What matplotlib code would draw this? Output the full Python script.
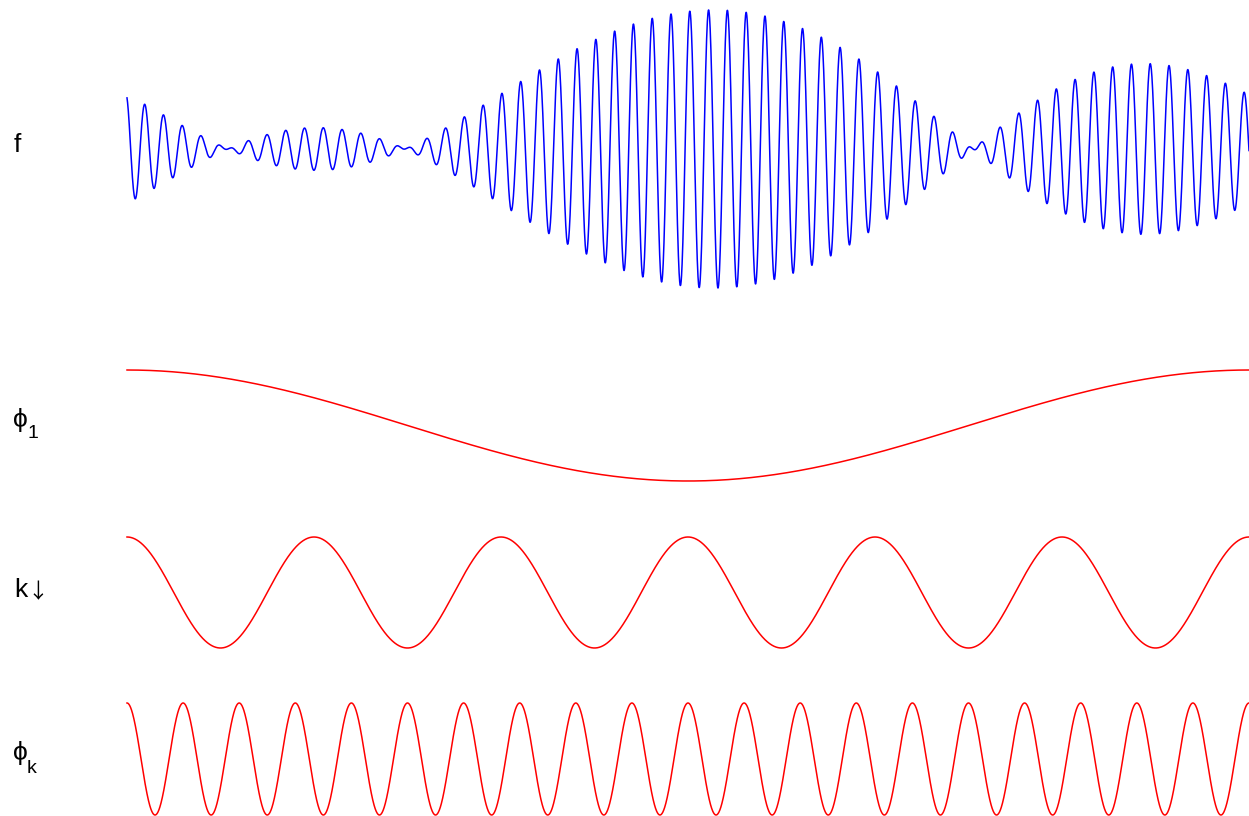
import numpy as np
import matplotlib.pyplot as plt

plt.rcParams['font.family'] = ['Liberation Sans', 'DejaVu Sans']

# f: fast carrier under a slowly varying envelope
f_cycles = 59.7                    # carrier cycles across the width
f_crest = 0.5686                   # position of one carrier crest (fraction of width)
f_zeros = [0.090, 0.248, 0.754]    # where the envelope passes through zero
f_gain = 330.0
f_tilt = 0.17

# basis functions: number of cosine cycles across the width
phi1_cycles = 1
kdown_cycles = 6
phik_cycles = 20

labels = ['f', 'ϕ', 'k', 'ϕ']
subs = ['', '1', '', 'k']

t = np.linspace(0, 1, 6000)
env = f_gain * (1 + f_tilt * np.cos(2 * np.pi * t))
env = env * np.sin(np.pi * (t - f_zeros[0])) * np.sin(np.pi * (t - f_zeros[1])) * np.sin(np.pi * (f_zeros[2] - t))
f = env * np.cos(2 * np.pi * f_cycles * (t - f_crest))

curves = [
    (f, 'blue'),
    (np.cos(2 * np.pi * phi1_cycles * t), 'red'),
    (np.cos(2 * np.pi * kdown_cycles * t), 'red'),
    (np.cos(2 * np.pi * phik_cycles * t), 'red'),
]

W, H = 1249, 816
fig = plt.figure(figsize=(W / 100, H / 100), dpi=100)

# pixel boxes (top, bottom) of each row
rows = [(10, 288), (370, 481), (537, 648), (703, 815)]
x0, x1 = 127, 1249

for (y, col), (top, bot) in zip(curves, rows):
    ax = fig.add_axes([x0 / W, 1 - bot / H, (x1 - x0) / W, (bot - top) / H])
    ax.plot(t, y, color=col, lw=1.1, clip_on=False)
    ax.set_xlim(0, 1)
    ax.set_ylim(y.min(), y.max())
    ax.axis('off')

# row labels (baseline positions in pixels)
label_pos = [(14, 152), (13, 427), (14, 597), (13, 760)]
sub_pos = [None, (28, 438), None, (27, 773)]
for lab, sub, (lx, ly), sp in zip(labels, subs, label_pos, sub_pos):
    fig.text(lx / W, 1 - ly / H, lab, fontsize=19, va='baseline', ha='left')
    if sub:
        fig.text(sp[0] / W, 1 - sp[1] / H, sub, fontsize=14, va='baseline', ha='left')

# thin arrow after k
fig.text(27 / W, 1 - 598 / H, '↓', fontsize=15, va='baseline', ha='left',
         family=['Noto Sans CJK SC', 'DejaVu Sans'])

fig.savefig('out.png', dpi=100)
